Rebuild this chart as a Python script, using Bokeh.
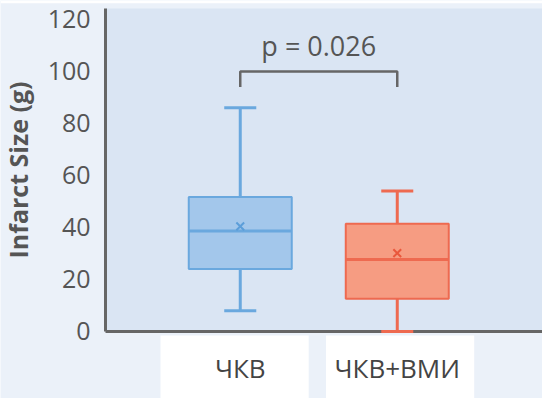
from bokeh.plotting import figure
from bokeh.models import Range1d, FixedTicker, Label, ColumnDataSource, BoxAnnotation
from bokeh.embed import file_html
from bokeh.resources import INLINE

# ---- data ----
categories = ["ЧКВ", "ЧКВ+ВМИ"]
whisker_low = [8, 0]
q1 = [24, 12.6]
median = [38.6, 27.7]
q3 = [51.7, 41.4]
whisker_high = [86, 54]
mean = [40.4, 30.1]
y_ticks = [0, 20, 40, 60, 80, 100, 120]
p_text = "p = 0.026"
bracket_level = 100
bracket_drop = 6
p_text_level = 110

fills = ["#A3C7EB", "#F69C82"]
lines = ["#6AA8DE", "#EE6A50"]
marks = ["#5C9ED9", "#E9573C"]

xs = [i + 1 for i in range(len(categories))]
box_w = 0.656
cap_w = 0.204

# ---- layout (whole canvas is the frame; axes are pinned inside it) ----
X0, X1 = -0.527, 2.925          # canvas x extent in category units
AXIS_X = 0.142                  # where the value axis sits
Y_TOP, Y_BOT = 127.3, -25.8     # canvas y extent in value units
Y_MAX = 124.2                   # top of the plotting area
TOP_STRIP = 126.2
LABEL_PANEL_TOP = -1.54
LABEL_PANEL_HALF = 0.472
LABEL_PANEL_SHIFT = [-0.036, 0.018]

FONT = "Open Sans"
TXT = "#555555"
AX = "#666666"
PLOT_BG = "#DAE5F3"
OUTER_BG = "#EBF1F9"

p = figure(width=542, height=398, output_backend="svg", toolbar_location=None,
           x_range=Range1d(X0, X1), y_range=Range1d(Y_BOT, Y_TOP),
           min_border=0)
p.background_fill_color = OUTER_BG
p.border_fill_color = OUTER_BG
p.outline_line_color = None
p.grid.visible = False

# plot area panel, white top strip and white label panels
p.add_layout(BoxAnnotation(left=AXIS_X, bottom=0, top=Y_MAX, fill_color=PLOT_BG, fill_alpha=1,
                           line_color=None, level="underlay"))
p.add_layout(BoxAnnotation(bottom=TOP_STRIP, fill_color="white", fill_alpha=1,
                           line_color=None, level="underlay"))
for x, s in zip(xs, LABEL_PANEL_SHIFT):
    p.add_layout(BoxAnnotation(left=x + s - LABEL_PANEL_HALF, right=x + s + LABEL_PANEL_HALF,
                               top=LABEL_PANEL_TOP, fill_color="white", fill_alpha=1,
                               line_color=None, level="underlay"))

src = ColumnDataSource(dict(x=xs, low=whisker_low, q1=q1, med=median, q3=q3, high=whisker_high,
                            mean=mean, fill=fills, line=lines, mark=marks,
                            cl=[x - cap_w / 2 for x in xs], cr=[x + cap_w / 2 for x in xs],
                            bl=[x - box_w / 2 for x in xs], br=[x + box_w / 2 for x in xs]))

p.segment(x0="x", y0="q3", x1="x", y1="high", source=src, line_color="line", line_width=3)
p.segment(x0="x", y0="q1", x1="x", y1="low", source=src, line_color="line", line_width=3)
p.segment(x0="cl", y0="high", x1="cr", y1="high", source=src, line_color="line", line_width=3)
p.segment(x0="cl", y0="low", x1="cr", y1="low", source=src, line_color="line", line_width=3,
          level="overlay")
p.vbar(x="x", width=box_w, top="q3", bottom="q1", source=src,
       fill_color="fill", line_color="line", line_width=2)
p.segment(x0="bl", y0="med", x1="br", y1="med", source=src, line_color="line", line_width=3)
p.scatter(x="x", y="mean", source=src, marker="x", size=11, line_color="mark", line_width=2)

# significance bracket
p.line(x=[xs[0], xs[0], xs[1], xs[1]],
       y=[bracket_level - bracket_drop, bracket_level, bracket_level, bracket_level - bracket_drop],
       line_color=AX, line_width=2.5)
p.add_layout(Label(x=(xs[0] + xs[1]) / 2, y=p_text_level, text=p_text, text_align="center",
                   text_baseline="middle", text_font=FONT, text_font_size="27px", text_color=TXT))

# axes
p.yaxis.fixed_location = AXIS_X
p.yaxis.bounds = (0, Y_MAX)
p.yaxis.ticker = FixedTicker(ticks=y_ticks)
p.yaxis.axis_label = "Infarct Size (g)"
p.yaxis.axis_label_text_font = FONT
p.yaxis.axis_label_text_font_style = "bold"
p.yaxis.axis_label_text_font_size = "25px"
p.yaxis.axis_label_text_color = TXT
p.yaxis.axis_label_standoff = 10
p.yaxis.major_label_text_font = FONT
p.yaxis.major_label_text_font_size = "25px"
p.yaxis.major_label_text_color = TXT
p.yaxis.major_label_standoff = 15

p.xaxis.fixed_location = 0
p.xaxis.bounds = (AXIS_X, X1)
p.xaxis.ticker = FixedTicker(ticks=xs)
p.xaxis.major_label_overrides = {x: c for x, c in zip(xs, categories)}
p.xaxis.major_label_text_font = FONT
p.xaxis.major_label_text_font_size = "26px"
p.xaxis.major_label_text_color = "#444444"
p.xaxis.major_label_standoff = 19

for ax in (p.xaxis, p.yaxis):
    ax.axis_line_color = AX
    ax.axis_line_width = 3
    ax.major_tick_line_color = None
    ax.minor_tick_line_color = None
    ax.major_tick_out = 0
    ax.major_tick_in = 0

open("out.html", "w").write(file_html(p, INLINE))
